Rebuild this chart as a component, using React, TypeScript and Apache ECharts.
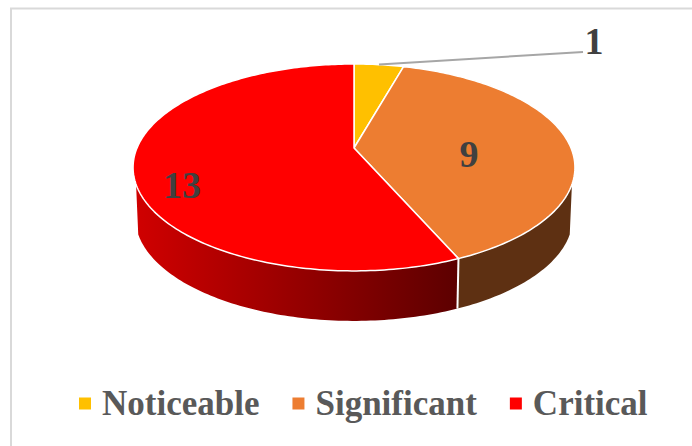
import React, { useEffect, useRef } from "react";
import * as echarts from "echarts";

const categories = ["Noticeable", "Significant", "Critical"];
const values = [1, 9, 13];
const topColors = ["#ffc000", "#ed7d31", "#ff0000"];

const SERIF = '"Liberation Serif", serif';

// Projection of the pie's unit circle (perspective) onto the page
const APEX_X = 354;
const APEX_Y = 148;
const A = 217;
const B = 99.8;
const K = -0.188;
const DEPTH = 50;
const BOTTOM_SCALE = 0.99;
const WALL_FROM = 110;
const WALL_TO = 250;

const LABEL_POS = [
  [594, 41],
  [469, 154],
  [182, 185],
];

const rad = (d: number) => (d * Math.PI) / 180;
function project(deg: number, bottom = false): number[] {
  const u = Math.sin(rad(deg));
  const v = -Math.cos(rad(deg));
  const w = 1 + K * v;
  const sx = bottom ? BOTTOM_SCALE : 1;
  return [APEX_X + (sx * A * u) / w, APEX_Y + (bottom ? DEPTH : 0) + (B * v) / w];
}
function rim(a: number, b: number, bottom = false): number[][] {
  const n = Math.max(2, Math.ceil(Math.abs(b - a)));
  const pts: number[][] = [];
  for (let i = 0; i <= n; i++) pts.push(project(a + ((b - a) * i) / n, bottom));
  return pts;
}

const total = values.reduce((s, v) => s + v, 0);

function makeRenderItem(index: number) {
  return (_params: any, api: any) => {
    const before = values.slice(0, index).reduce((s, v) => s + v, 0);
    const value = api.value(0);
    const start = (before / total) * 360;
    const end = ((before + value) / total) * 360;
    const children: any[] = [];

    const wa = Math.max(start, WALL_FROM);
    const wb = Math.min(end, WALL_TO);
    if (wb > wa) {
      const wallPts = [...rim(wa, wb), ...rim(wb, wa, true)];
      const isRed = index === 2;
      children.push({
        type: "polygon",
        shape: { points: wallPts },
        style: {
          fill: isRed
            ? new echarts.graphic.LinearGradient(0, 0, 1, 0, [
                { offset: 0, color: "#d00000" },
                { offset: 1, color: "#5c0000" },
              ])
            : "#5e3012",
          stroke: "none",
        },
      });
      if (isRed) {
        children.push({
          type: "polyline",
          shape: { points: [project(wa), project(wa, true)] },
          style: { stroke: "#ffffff", lineWidth: 2, fill: "none" },
        });
      }
    }

    children.push({
      type: "polygon",
      shape: { points: [[APEX_X, APEX_Y], ...rim(start, end)] },
      style: { fill: topColors[index], stroke: "#ffffff", lineWidth: 1.5, lineJoin: "round" },
    });

    const [lx, ly] = LABEL_POS[index];
    if (index === 0) {
      children.push({
        type: "line",
        shape: { x1: 379, y1: 64.5, x2: 583, y2: 52 },
        style: { stroke: "#a6a6a6", lineWidth: 2 },
        z2: 5,
      });
    }
    children.push({
      type: "text",
      x: lx,
      y: ly,
      z2: 10,
      style: {
        text: String(value),
        x: 0,
        y: 0,
        align: "center",
        verticalAlign: "middle",
        fill: "#404040",
        font: `bold 38px ${SERIF}`,
      },
    });
    return { type: "group", children };
  };
}

export default function App() {
  const ref = useRef<HTMLDivElement>(null);
  useEffect(() => {
    document.body.style.margin = "0";
    const chart = echarts.init(ref.current!, undefined, { renderer: "svg" });
    chart.setOption({
      animation: false,
      backgroundColor: "#ffffff",
      graphic: [
        {
          type: "rect",
          shape: { x: 11, y: 8.5, width: 700, height: 460 },
          style: { fill: "none", stroke: "#d9d9d9", lineWidth: 2 },
          silent: true,
          z: -1,
        },
      ],
      legend: {
        data: categories,
        left: 74,
        top: 381,
        itemWidth: 12,
        itemHeight: 12,
        itemGap: 33,
        icon: "rect",
        textStyle: {
          fontFamily: SERIF,
          fontWeight: "bold",
          fontSize: 35,
          color: "#595959",
          padding: [0, 0, 6, 6],
        },
      },
      series: categories.map((name, i) => ({
        type: "custom",
        name,
        coordinateSystem: "none",
        color: topColors[i],
        itemStyle: { color: topColors[i] },
        data: [[values[i]]],
        renderItem: makeRenderItem(i),
        silent: true,
      })),
    });
    return () => chart.dispose();
  }, []);
  return <div ref={ref} style={{ width: 692, height: 446 }} />;
}
